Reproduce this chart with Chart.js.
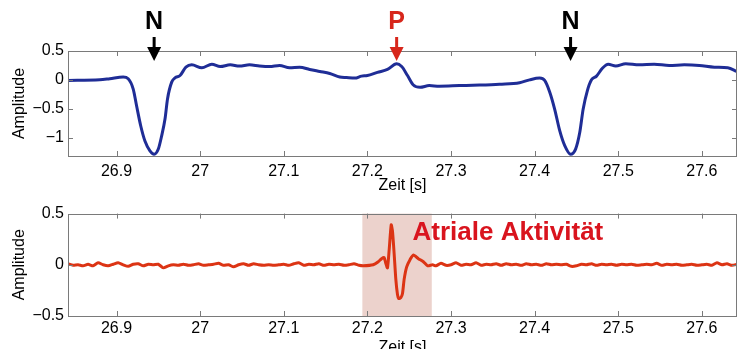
<!DOCTYPE html>
<html>
<head>
<meta charset="utf-8">
<script src="https://cdn.jsdelivr.net/npm/chart.js@4/dist/chart.umd.min.js"></script>
<style>
html,body{margin:0;padding:0;background:#fff;overflow:hidden;width:738px;height:349px;}
#c1{position:absolute;left:0;top:0;}
#c2{position:absolute;left:0;top:200px;}
</style>
</head>
<body>
<canvas id="c1" width="738" height="200"></canvas>
<canvas id="c2" width="738" height="160"></canvas>
<script>
// ---------- DATA ----------
const xTicks = [26.9, 27.0, 27.1, 27.2, 27.3, 27.4, 27.5, 27.6];
const yTicksTop = [-1, -0.5, 0, 0.5];
const yTicksBottom = [-0.5, 0, 0.5];

// top: ECG (blue)
const ecgTime = [26.842,26.880,26.892,26.908,26.914,26.920,26.924,26.929,26.934,26.940,26.945,26.950,26.954,26.958,26.961,26.966,26.970,26.976,26.983,26.990,27.002,27.014,27.024,27.036,27.047,27.059,27.071,27.083,27.095,27.107,27.119,27.131,27.143,27.155,27.167,27.175,27.185,27.193,27.200,27.212,27.224,27.235,27.241,27.248,27.255,27.263,27.274,27.286,27.310,27.334,27.358,27.382,27.394,27.406,27.412,27.418,27.424,27.430,27.436,27.443,27.449,27.454,27.458,27.463,27.468,27.474,27.481,27.488,27.497,27.509,27.525,27.543,27.561,27.579,27.597,27.615,27.631,27.642];
const ecgAmp  = [-0.01,0.0,0.02,0.05,0.02,-0.16,-0.45,-0.80,-1.06,-1.23,-1.29,-1.20,-0.97,-0.68,-0.33,-0.04,0.035,0.075,0.22,0.26,0.21,0.27,0.23,0.26,0.24,0.26,0.24,0.23,0.25,0.21,0.22,0.18,0.145,0.11,0.05,0.04,0.03,0.065,0.075,0.13,0.18,0.28,0.23,0.075,-0.09,-0.13,-0.10,-0.11,-0.10,-0.09,-0.075,-0.05,0.0,0.03,-0.01,-0.21,-0.51,-0.88,-1.14,-1.29,-1.20,-0.91,-0.51,-0.19,0.0,0.065,0.20,0.27,0.24,0.28,0.26,0.27,0.25,0.26,0.25,0.22,0.21,0.145];

// bottom: atrial activity (red)
const atrTime = [26.842,26.848,26.854,26.860,26.866,26.872,26.878,26.884,26.890,26.896,26.902,26.908,26.914,26.920,26.926,26.932,26.938,26.944,26.950,26.956,26.962,26.968,26.974,26.980,26.986,26.992,26.998,27.004,27.010,27.016,27.022,27.028,27.034,27.040,27.046,27.052,27.058,27.064,27.070,27.076,27.082,27.088,27.094,27.100,27.106,27.112,27.118,27.124,27.130,27.136,27.142,27.148,27.154,27.160,27.166,27.172,27.178,27.184,27.190,
 27.195,27.207,27.213,27.217,27.220,27.222,27.224,27.226,27.2285,27.230,27.232,27.234,27.236,27.2375,27.240,27.242,27.244,27.247,27.251,27.255,27.261,27.267,27.272,27.278,
 27.282,27.288,27.294,27.300,27.306,27.312,27.318,27.324,27.330,27.336,27.342,27.348,27.354,27.360,27.366,27.372,27.378,27.384,27.390,27.396,27.402,27.408,27.414,27.420,27.426,27.432,27.438,27.444,27.450,27.456,27.462,27.468,27.474,27.480,27.486,27.492,27.498,27.504,27.510,27.516,27.522,27.528,27.534,27.540,27.546,27.552,27.558,27.564,27.570,27.576,27.582,27.588,27.594,27.600,27.606,27.612,27.618,27.624,27.630,27.636,27.642];
const atrAmp = [0.01,-0.005,0.0,-0.01,0.005,-0.01,0.02,0.0,-0.01,0.005,0.02,0.0,-0.015,0.005,0.01,-0.01,0.005,0.0,0.005,-0.03,-0.01,0.0,-0.005,0.005,-0.005,0.0,0.01,-0.005,0.0,0.005,0.015,-0.005,0.0,-0.02,0.0,0.01,-0.005,0.01,0.0,-0.005,0.0,-0.005,0.0,0.005,-0.005,0.01,0.02,-0.005,0.005,0.0,0.01,-0.005,0.005,0.0,0.005,-0.005,0.0,0.01,-0.005,
 -0.01,0.0,0.03,0.06,0.07,0.015,-0.03,0.14,0.39,0.33,0.11,-0.14,-0.29,-0.33,-0.32,-0.28,-0.14,-0.02,0.05,0.095,0.06,0.03,-0.01,0.0,
 -0.01,0.015,-0.005,0.0,0.02,-0.005,0.005,0.0,0.02,-0.005,0.005,0.0,0.01,-0.005,0.01,0.0,0.005,-0.005,0.01,0.0,0.005,-0.005,0.01,0.0,0.005,0.0,0.005,-0.015,-0.01,0.005,0.0,0.01,-0.005,0.005,0.0,0.005,-0.005,0.005,0.0,0.005,-0.005,0.0,0.005,0.0,0.015,-0.005,0.005,0.0,0.005,-0.005,0.0,0.005,-0.005,0.0,0.005,-0.005,0.02,0.0,0.01,-0.005,0.005];

// annotations
const markerTimes = [26.945, 27.235, 27.443];
const markerLabels = ['N', 'P', 'N'];
const markerColors = ['#000000', '#d7261b', '#000000'];
const shadeRange = [27.194, 27.277];
const atrialLabel = 'Atriale Aktivität';
const atrialLabelPos = [27.254, 0.31];

const X_MIN = 26.842, X_MAX = 27.642;

// ---------- helpers ----------
const FONT = 'Liberation Sans, Arial, Helvetica, sans-serif';
Chart.defaults.font.family = FONT;
Chart.defaults.color = '#000';

const boxPlugin = {
  id: 'box',
  afterDraw(chart) {
    const {ctx, chartArea: a, scales} = chart;
    ctx.save();
    ctx.strokeStyle = '#7a7a7a';
    ctx.lineWidth = 1;
    ctx.beginPath();
    const L = 5;
    scales.x.ticks.forEach(t => {
      const x = Math.round(scales.x.getPixelForValue(t.value)) + 0.5;
      ctx.moveTo(x, a.bottom); ctx.lineTo(x, a.bottom - L);
      ctx.moveTo(x, a.top); ctx.lineTo(x, a.top + L);
    });
    scales.y.ticks.forEach(t => {
      const y = Math.round(scales.y.getPixelForValue(t.value)) + 0.5;
      ctx.moveTo(a.left, y); ctx.lineTo(a.left + L, y);
      ctx.moveTo(a.right, y); ctx.lineTo(a.right - L, y);
    });
    ctx.stroke();
    ctx.strokeRect(Math.round(a.left) + 0.5, Math.round(a.top) + 0.5, Math.round(a.right - a.left) - 1, Math.round(a.bottom - a.top));
    ctx.restore();
  }
};

const markerPlugin = {
  id: 'markers',
  afterDraw(chart) {
    const {ctx, chartArea: a, scales} = chart;
    ctx.save();
    markerTimes.forEach((t, i) => {
      const x = scales.x.getPixelForValue(t);
      ctx.fillStyle = markerColors[i];
      ctx.strokeStyle = markerColors[i];
      ctx.font = 'bold 25px ' + FONT;
      ctx.textAlign = 'center';
      ctx.textBaseline = 'middle';
      ctx.fillText(markerLabels[i], x, a.top - 29);
      ctx.lineWidth = 3;
      ctx.beginPath();
      ctx.moveTo(x, a.top - 14); ctx.lineTo(x, a.top - 3);
      ctx.stroke();
      ctx.beginPath();
      ctx.moveTo(x - 7, a.top - 4); ctx.lineTo(x + 7, a.top - 4); ctx.lineTo(x, a.top + 10);
      ctx.closePath();
      ctx.fill();
    });
    ctx.restore();
  }
};

const shadePlugin = {
  id: 'shade',
  beforeDatasetsDraw(chart) {
    const {ctx, chartArea: a, scales} = chart;
    const x0 = scales.x.getPixelForValue(shadeRange[0]);
    const x1 = scales.x.getPixelForValue(shadeRange[1]);
    ctx.save();
    ctx.fillStyle = '#ecd2cc';
    ctx.fillRect(x0, a.top, x1 - x0, a.bottom - a.top);
    ctx.restore();
  },
  afterDraw(chart) {
    const {ctx, scales} = chart;
    ctx.save();
    ctx.fillStyle = '#d9141e';
    ctx.font = 'bold 26px ' + FONT;
    ctx.textAlign = 'left';
    ctx.textBaseline = 'middle';
    ctx.fillText(atrialLabel, scales.x.getPixelForValue(atrialLabelPos[0]), scales.y.getPixelForValue(atrialLabelPos[1]));
    ctx.restore();
  }
};

function fmt(v) {
  return String(Number(v.toFixed(2))).replace('-', '\u2212');
}

function makeOptions(o) {
  return {
    responsive: false,
    animation: false,
    events: [],
    layout: { padding: { top: o.padTop, right: 1, left: 0, bottom: 0 } },
    plugins: { legend: { display: false }, tooltip: { enabled: false } },
    scales: {
      x: {
        type: 'linear', min: X_MIN, max: X_MAX,
        afterBuildTicks: s => { s.ticks = xTicks.map(v => ({ value: v })); },
        afterFit: s => { s.height = o.xHeight; },
        grid: { display: false, drawTicks: false },
        border: { display: false },
        ticks: { padding: o.xTickPad, maxRotation: 0, autoSkip: false, font: { size: 16 }, color: '#000', callback: v => fmt(v) },
        title: { display: true, text: 'Zeit [s]', font: { size: 16 }, color: '#000', padding: { top: 0, bottom: o.xTitlePad } }
      },
      y: {
        type: 'linear', min: o.yMin, max: o.yMax,
        afterBuildTicks: s => { s.ticks = o.yTicks.map(v => ({ value: v })); },
        afterFit: s => { s.width = 68; },
        grid: { display: false, drawTicks: false },
        border: { display: false },
        ticks: { padding: 4, font: { size: 16 }, color: '#000', callback: v => fmt(v) },
        title: { display: true, text: 'Amplitude', font: { size: 16 }, color: '#000', padding: { top: 10, bottom: 0 } }
      }
    }
  };
}

new Chart(document.getElementById('c1'), {
  type: 'line',
  data: {
    datasets: [{
      data: ecgTime.map((t, i) => ({ x: t, y: ecgAmp[i] })),
      borderColor: '#1f2d96', borderWidth: 3, pointRadius: 0,
      cubicInterpolationMode: 'monotone', fill: false
    }]
  },
  options: makeOptions({ padTop: 51, xHeight: 44, xTickPad: 6, xTitlePad: 5, yMin: -1.32, yMax: 0.5, yTicks: yTicksTop }),
  plugins: [boxPlugin, markerPlugin]
});

new Chart(document.getElementById('c2'), {
  type: 'line',
  data: {
    datasets: [{
      data: atrTime.map((t, i) => ({ x: t, y: atrAmp[i] })),
      borderColor: '#dc3414', borderWidth: 3, pointRadius: 0,
      tension: 0.2, fill: false
    }]
  },
  options: makeOptions({ padTop: 10, xHeight: 44, xTickPad: 3, xTitlePad: 3, yMin: -0.5, yMax: 0.5, yTicks: yTicksBottom }),
  plugins: [shadePlugin, boxPlugin]
});
</script>
</body>
</html>
